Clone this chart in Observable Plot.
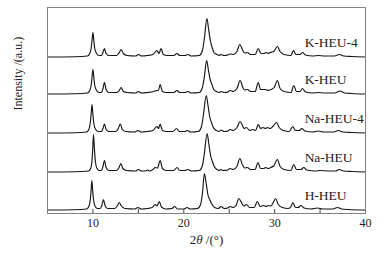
<!DOCTYPE html>
<html>
<head>
<meta charset="utf-8">
<script src="https://cdn.jsdelivr.net/npm/d3@7"></script>
<script src="https://cdn.jsdelivr.net/npm/@observablehq/plot@0.6"></script>
<style>
  html, body { margin: 0; padding: 0; background: #fff; }
</style>
</head>
<body>
<div id="chart"></div>
<script>
// Series names and their vertical stacking offsets (a.u.)
const seriesNames = ["H-HEU", "Na-HEU", "Na-HEU-4", "K-HEU", "K-HEU-4"];
const offsets = [3, 41, 80, 119, 156];
const xTicks = [10, 20, 30, 40];
const minorTicks = [15, 25, 35];
const xLabel = "2θ /(°)";
const yLabel = "Intensity /(a.u.)";

// Pattern vertices [2θ, intensity]
const hHEU = [[5,0.5],[8,0.8],[9.3,1.5],[9.55,4],[9.7,10],[9.8,20],[9.88,30],[9.97,20],[10.08,10],[10.25,4],[10.5,2],[10.8,2],[10.98,5],[11.16,11],[11.33,5],[11.6,2],[12.4,2],[12.7,5],[12.9,8],[13.1,5],[13.5,2],[14.6,1.5],[14.95,3],[15.3,1.5],[16.0,2],[16.5,3],[16.87,6],[17.05,4.5],[17.3,9],[17.55,3.5],[18.0,1.5],[18.7,2],[19.0,4],[19.3,1.5],[20.0,1.5],[20.36,3],[20.7,1.5],[21.5,2],[21.85,6],[22.05,17],[22.27,37],[22.45,28],[22.65,16],[22.85,11],[23.05,7],[23.4,3],[23.8,2],[24.1,4],[24.45,2],[24.85,2.5],[25.1,4],[25.4,3],[25.75,5],[26.06,12],[26.35,8],[26.6,4.5],[26.9,6],[27.25,3],[27.75,3],[28.1,9],[28.4,4],[28.8,5],[29.05,4],[29.3,5],[29.6,4.5],[29.85,8],[30.1,12],[30.4,6],[30.85,3],[31.5,2],[31.8,4],[32.0,8],[32.3,3],[32.6,3],[32.9,5],[33.25,2.5],[34.0,1.5],[34.7,2.5],[35.3,1.5],[36.4,1.5],[36.9,3],[37.4,1.5],[38,1],[40,0.5]];
const naHEU = [[5,0.5],[8,0.8],[9.5,1.5],[9.75,4],[9.9,12],[9.98,24],[10.06,38],[10.16,24],[10.27,11],[10.45,4],[10.7,2],[10.95,2],[11.1,6],[11.27,12],[11.45,5],[11.75,2],[12.6,2],[12.88,5],[13.07,9],[13.3,4],[13.7,2],[14.7,1.5],[15.0,3],[15.35,1.5],[15.8,1.5],[16.0,2.5],[16.25,1.5],[16.6,3],[16.87,5],[17.1,4.5],[17.4,12],[17.65,4],[18.1,2],[18.9,2],[19.26,5],[19.55,2],[20.1,2],[20.47,3],[20.85,1.5],[21.7,2],[22.05,7],[22.25,18],[22.57,39],[22.75,29],[22.95,17],[23.15,11],[23.35,6],[23.65,3],[23.9,2],[24.05,3],[24.35,2],[24.85,2.5],[25.1,4],[25.45,3],[25.85,6],[26.17,14],[26.45,8],[26.7,4.5],[27.0,5],[27.35,3],[27.85,3],[28.16,10],[28.45,4],[28.8,4],[29.0,5],[29.3,4],[29.56,5],[29.9,6.5],[30.3,13],[30.6,6],[31.05,3],[31.8,2],[32.1,8],[32.4,3],[32.9,3],[33.2,5],[33.55,2.5],[34.5,1.5],[35.0,2],[36.0,1.5],[36.7,1.5],[37.1,3],[37.6,1.5],[38.5,1],[40,0.5]];
const naHEU4 = [[5,0.5],[8,0.8],[9.3,1.5],[9.55,4],[9.7,10],[9.8,19],[9.9,29],[10.0,19],[10.1,10],[10.3,4],[10.6,2],[10.95,2],[11.1,5],[11.27,9.5],[11.45,4],[11.75,2],[12.5,2],[12.8,5],[13.0,9.5],[13.25,4],[13.6,2],[14.6,1.5],[14.95,3],[15.3,1.5],[16.0,2],[16.6,3],[17.05,7],[17.22,5],[17.4,9.5],[17.65,3],[18.1,2],[18.8,2],[19.2,5],[19.5,2],[20.1,2],[20.4,3],[20.75,1.5],[21.6,2],[21.95,7],[22.15,18],[22.48,38],[22.65,29],[22.85,17],[23.05,11],[23.25,6],[23.6,3],[23.9,2],[24.1,3.5],[24.45,2],[24.85,2.5],[25.1,4],[25.45,3],[25.85,6],[26.2,12],[26.45,8],[26.65,5],[26.9,6],[27.25,3],[27.6,4],[27.9,3],[28.2,9],[28.45,5],[28.7,6],[29.0,5],[29.2,6],[29.5,5],[29.8,7],[30.2,11],[30.5,6],[30.95,3],[31.6,2],[32.0,7],[32.3,3],[32.7,3],[33.0,5],[33.35,2.5],[34.2,1.5],[34.8,2.5],[35.4,1.5],[36.5,1.5],[37.0,3],[37.5,1.5],[38.5,1],[40,0.5]];
const kHEU = [[5,0.5],[8,0.8],[9.4,1.5],[9.65,4],[9.8,9],[9.9,17],[10.0,25],[10.1,17],[10.2,9],[10.4,4],[10.7,2],[10.95,2],[11.1,6],[11.27,12],[11.45,5],[11.75,2],[12.6,2],[12.9,4],[13.1,7],[13.35,3],[13.75,2],[14.7,1.5],[15.0,3],[15.35,1.5],[16.0,2],[16.7,3],[17.0,4],[17.2,4],[17.4,10],[17.65,3],[18.1,2],[18.9,2],[19.25,4],[19.55,2],[20.1,2],[20.45,3],[20.8,1.5],[21.7,2],[22.05,7],[22.25,17],[22.52,34],[22.7,25],[22.9,15],[23.1,10],[23.3,5],[23.6,3],[23.9,2],[24.1,3],[24.45,2],[24.85,2.5],[25.1,4],[25.45,3],[25.85,6],[26.2,14],[26.5,7],[26.7,4.5],[27.0,5],[27.35,3],[27.85,3],[28.2,12],[28.45,5],[28.8,5],[29.0,5],[29.3,4],[29.6,5],[29.95,7],[30.3,14],[30.6,6],[31.05,3],[31.8,2],[32.1,9],[32.4,3],[32.8,3],[33.05,6],[33.4,2.5],[34.2,1.5],[34.8,2],[35.5,1.5],[36.6,1.5],[37.2,3.5],[37.7,1.5],[38.5,1],[40,0.5]];
const kHEU4 = [[5,0.5],[8,0.8],[9.4,1.5],[9.65,4],[9.8,9],[9.9,17],[10.0,25],[10.1,17],[10.2,9],[10.4,4],[10.7,2],[10.95,2],[11.1,5],[11.27,9],[11.45,4],[11.75,2],[12.6,2],[12.9,5],[13.1,8],[13.35,4],[13.75,2],[14.7,1.5],[15.0,3],[15.35,1.5],[16.0,2],[16.6,3],[17.05,7],[17.27,4],[17.5,9],[17.75,3],[18.2,2],[18.9,2],[19.26,4],[19.55,2],[20.1,2],[20.47,3],[20.8,1.5],[21.7,2],[22.05,7],[22.25,18],[22.55,39],[22.72,29],[22.92,17],[23.12,10],[23.32,5],[23.65,3],[23.9,2],[24.05,3],[24.45,2],[24.85,2.5],[25.1,3.5],[25.45,3],[25.85,6],[26.17,13],[26.45,8],[26.7,4.5],[27.0,5],[27.35,3],[27.85,3],[28.2,9],[28.5,4],[28.8,4],[29.1,5],[29.3,4],[29.5,5],[29.9,6],[30.3,11],[30.6,6],[31.05,3],[31.8,2],[32.06,7],[32.35,3],[32.8,3],[33.06,5],[33.4,2.5],[34.2,1.5],[34.8,2],[35.5,1.5],[36.6,1.5],[37.1,3],[37.6,1.5],[38.5,1],[40,0.5]];

const patterns = [hHEU, naHEU, naHEU4, kHEU, kHEU4];

const rows = patterns.flatMap((p, i) =>
  p.map(([x, v]) => ({series: seriesNames[i], x, y: v + offsets[i]})));
const labels = seriesNames.map((s, i) => ({series: s, y: offsets[i]}));

const serif = "'Liberation Serif', 'Times New Roman', Times, serif";

const chart = Plot.plot({
  width: 384,
  height: 261,
  marginLeft: 47,
  marginRight: 19,
  marginTop: 7,
  marginBottom: 48,
  style: {fontFamily: serif, fontSize: "12px", color: "#222", background: "#fff"},
  x: {domain: [5, 40], ticks: xTicks, tickSize: 0, tickPadding: 5, label: null, tickFormat: d => String(d)},
  y: {domain: [0, 206], axis: null},
  marks: [
    Plot.line(rows, {x: "x", y: "y", z: "series", stroke: "#151515", strokeWidth: 1.15, curve: "monotone-x"}),
    Plot.ruleX([...xTicks, ...minorTicks], {x: d => d, y1: 0, y2: 4, stroke: "#444", strokeWidth: 1}),
    Plot.frame({stroke: "#808080", strokeWidth: 1}),
    Plot.text(labels, {x: 33.3, y: d => d.y + 14.5, text: "series", textAnchor: "start", fontSize: 13.5, fill: "#222"}),
    Plot.text([xLabel], {frameAnchor: "bottom", dy: 30, text: d => d, fontSize: 13, fill: "#222"}),
    Plot.text([yLabel], {frameAnchor: "left", dx: -29, rotate: -90, text: d => d, fontSize: 12, fill: "#222"})
  ]
});

document.getElementById("chart").appendChild(chart);

// italic theta in the x title
d3.select(chart).selectAll("text").each(function() {
  if (this.textContent === xLabel) {
    const t = d3.select(this);
    t.text(null);
    t.append("tspan").text("2");
    t.append("tspan").attr("font-style", "italic").text("θ");
    t.append("tspan").text(" /(°)");
  }
});
</script>
</body>
</html>
